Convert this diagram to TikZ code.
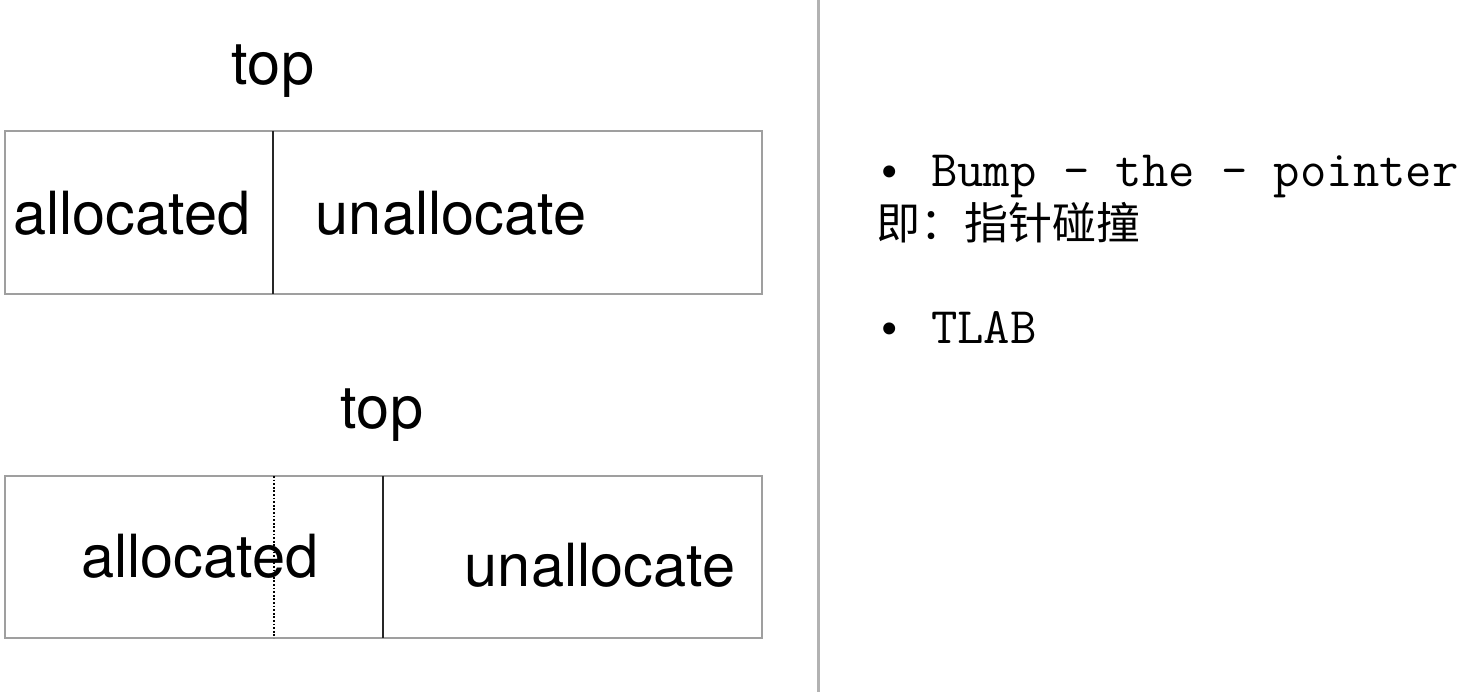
\documentclass[tikz,border=0pt]{standalone}
\usepackage{fontspec}
\setmainfont{TeX Gyre Heros}
\newfontfamily\dotfont{Liberation Mono}
\newfontfamily\cjk{Noto Sans CJK SC}
\tikzset{
	box/.style={draw=gray!75, line width=2pt},
	divider/.style={draw=black!85, line width=2pt},
	oldtop/.style={draw=black, line width=2.2pt, dash pattern=on 1.8pt off 1.8pt},
	big/.style={font=\fontsize{59.5}{61}\selectfont, anchor=base, inner sep=0pt},
	note/.style={font=\ttfamily\fontsize{51.2}{53}\selectfont, anchor=base west, inner sep=0pt},
	bullet/.style={font=\dotfont\fontsize{44}{46}\selectfont, anchor=base west, inner sep=0pt},
}
\begin{document}
\begin{tikzpicture}[x=1pt,y=-1pt]
				\useasboundingbox[fill=white] (0,0) rectangle (1464,692);
				% first state
				\node[big] (top1) at (273,85) {top};
				\draw[box] (5,131) rectangle (762,294);
				\draw[divider] (273,131) -- (273,294);
				\node[big] (alloc1) at (132,235) {allocated};
				\node[big] (free1) at (451,235) {unallocate};
				% second state
				\node[big] (top2) at (382,428) {top};
				\draw[box] (5,476) rectangle (762,638);
				\draw[oldtop] (274,476) -- (274,638);
				\draw[divider] (383,476) -- (383,638);
				\node[big] (alloc2) at (200,577) {allocated};
				\node[big] (free2) at (600,586) {unallocate};
				% separator
				\draw[gray!60, line width=3pt] (818,0) -- (818,692);
				% notes
				\node[bullet] (dot1) at (876,187) {•};
				\node[note] (bump) at (931,187) {Bump - the - pointer};
				\node[anchor=base west, inner sep=0pt, font=\cjk\fontsize{44}{46}\selectfont] (cn) at (876,240) {即：指针碰撞};
				\node[bullet] (dot2) at (876,344) {•};
				\node[note] (tlab) at (931,344) {TLAB};
\end{tikzpicture}
\end{document}
